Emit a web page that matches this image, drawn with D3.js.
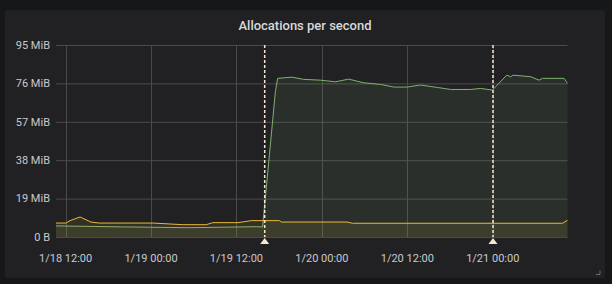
<!DOCTYPE html>
<html><head><meta charset="utf-8">
<script src="https://cdn.jsdelivr.net/npm/d3@7"></script>
<style>
html,body{margin:0;padding:0;background:#161719;}
svg{display:block;font-family:Roboto,"Noto Sans",sans-serif;}
</style></head>
<body><svg id="chart" width="612" height="284"></svg>
<script>
// ---- data ----
const title = "Allocations per second";
const domainStart = "2020-01-18 10:39";
const domainEnd = "2020-01-21 10:30";

const greenTimes = ["2020-01-18 10:39","2020-01-18 20:02","2020-01-19 05:22","2020-01-19 14:47","2020-01-19 15:40","2020-01-19 17:28","2020-01-19 17:47","2020-01-19 19:49","2020-01-19 21:24","2020-01-19 23:47","2020-01-20 01:54","2020-01-20 03:46","2020-01-20 05:53","2020-01-20 08:14","2020-01-20 10:06","2020-01-20 11:59","2020-01-20 13:52","2020-01-20 16:13","2020-01-20 18:05","2020-01-20 20:53","2020-01-20 22:18","2020-01-20 23:57","2020-01-21 01:58","2020-01-21 02:31","2020-01-21 02:51","2020-01-21 05:20","2020-01-21 06:30","2020-01-21 06:59","2020-01-21 10:01","2020-01-21 10:30"];
const greenValues = [5.5,5.0,4.6,5.1,5.0,71.9,78.5,79.1,78.0,77.6,76.8,78.1,76.3,75.5,74.2,74.2,75.2,74.0,73.0,73.0,73.5,72.7,80.1,79.3,80.1,79.3,77.6,78.5,78.5,76.0];

const yellowTimes = ["2020-01-18 10:39","2020-01-18 12:03","2020-01-18 12:37","2020-01-18 14:02","2020-01-18 15:34","2020-01-18 16:44","2020-01-19 00:15","2020-01-19 04:28","2020-01-19 07:45","2020-01-19 08:41","2020-01-19 12:13","2020-01-19 14:05","2020-01-19 18:04","2020-01-19 18:18","2020-01-20 03:33","2020-01-20 04:17","2020-01-21 09:48","2020-01-21 10:30"];
const yellowValues = [6.9,6.9,8.1,9.9,7.4,6.9,6.9,6.1,6.1,7.1,7.1,8.1,8.1,7.4,7.4,6.8,6.8,8.3];

const yTicks = [0,19,38,57,76,95];
const yTickLabels = ["0 B","19 MiB","38 MiB","57 MiB","76 MiB","95 MiB"];
const xTicks = ["2020-01-18 12:00","2020-01-19 00:00","2020-01-19 12:00","2020-01-20 00:00","2020-01-20 12:00","2020-01-21 00:00"];
const xTickLabels = ["1/18 12:00","1/19 00:00","1/19 12:00","1/20 00:00","1/20 12:00","1/21 00:00"];
const annotationTimes = ["2020-01-19 15:58","2020-01-21 00:02"];

// ---- drawing ----
const parse = d3.timeParse("%Y-%m-%d %H:%M");
const svg = d3.select("#chart");
const W = 612, H = 284;
const plot = {left:56, right:567.5, top:45, bottom:237};

svg.append("rect").attr("width",W).attr("height",H).attr("fill","#161719");
svg.append("rect").attr("x",5).attr("y",10).attr("width",600).attr("height",268).attr("rx",2).attr("fill","#212124");

svg.append("text").attr("x",305).attr("y",30).attr("text-anchor","middle")
  .attr("fill","#d8d9da").attr("font-size",13).attr("font-weight",500).text(title);

const x = d3.scaleTime().domain([parse(domainStart), parse(domainEnd)]).range([plot.left, plot.right]);
const y = d3.scaleLinear().domain([0,95]).range([plot.bottom, plot.top]);

// grid
const grid = svg.append("g");
grid.selectAll("line.h").data(yTicks).join("line")
  .attr("x1",plot.left).attr("x2",plot.right)
  .attr("y1",d=>y(d)+0.5).attr("y2",d=>y(d)+0.5)
  .attr("stroke","#4a4a4d").attr("stroke-width",1);
grid.selectAll("line.v").data(xTicks).join("line")
  .attr("x1",d=>Math.round(x(parse(d)))+0.5).attr("x2",d=>Math.round(x(parse(d)))+0.5)
  .attr("y1",plot.top).attr("y2",plot.bottom)
  .attr("stroke","#4a4a4d").attr("stroke-width",1);

// y labels
svg.append("g").selectAll("text").data(yTicks).join("text")
  .attr("x",50).attr("y",d=>y(d)).attr("dy","0.35em").attr("text-anchor","end")
  .attr("fill","#c8c9cb").attr("font-size",11).text((d,i)=>yTickLabels[i]);

// x labels
svg.append("g").selectAll("text").data(xTicks).join("text")
  .attr("x",d=>x(parse(d))).attr("y",261.5).attr("text-anchor","middle")
  .attr("fill","#c8c9cb").attr("font-size",11).text((d,i)=>xTickLabels[i]);

function series(times, values, color){
  const data = times.map((t,i)=>({t:parse(t), v:values[i]}));
  const area = d3.area().x(d=>x(d.t)).y0(y(0)).y1(d=>y(d.v));
  const line = d3.line().x(d=>x(d.t)).y(d=>y(d.v));
  svg.append("path").datum(data).attr("d",area).attr("fill",color).attr("fill-opacity",0.1);
  svg.append("path").datum(data).attr("d",line).attr("fill","none").attr("stroke",color).attr("stroke-width",1);
}
series(greenTimes, greenValues, "#7eb26d");
series(yellowTimes, yellowValues, "#eab839");

// annotations
const ann = svg.append("g");
annotationTimes.forEach(t=>{
  const ax = x(parse(t));
  ann.append("line").attr("x1",ax).attr("x2",ax).attr("y1",plot.top).attr("y2",plot.bottom)
    .attr("stroke","#f6e7cf").attr("stroke-width",1.5).attr("stroke-dasharray","3,2");
  ann.append("path").attr("d",`M${ax-4.5},244L${ax},238L${ax+4.5},244Z`).attr("fill","#f6e7cf");
});

// resize handle
svg.append("path").attr("d","M600,270.5V274.5H596").attr("fill","none").attr("stroke","#6c6c70").attr("stroke-width",1);
</script></body></html>
